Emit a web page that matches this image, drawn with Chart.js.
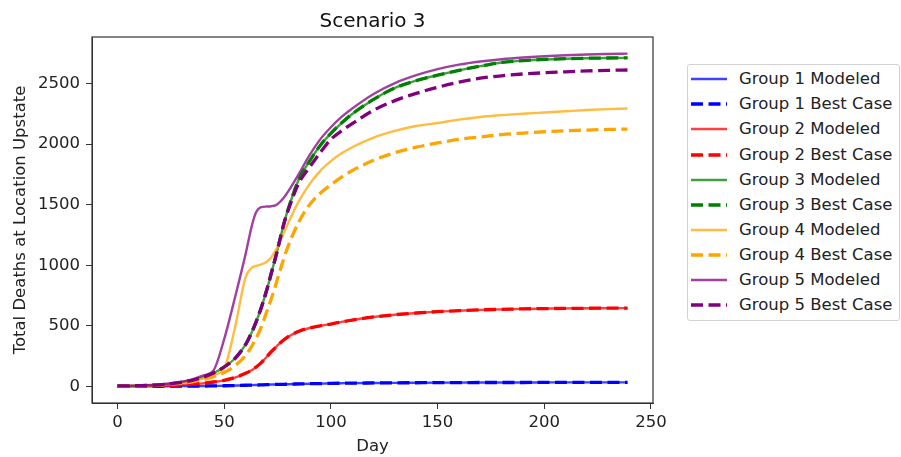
<!DOCTYPE html>
<html><head><meta charset="utf-8">
<script src="https://cdn.jsdelivr.net/npm/chart.js@4.4.0/dist/chart.umd.min.js"></script>
<style>
html,body{margin:0;padding:0;background:#fff;}
#wrap{position:relative;width:901px;height:457px;overflow:hidden;background:#fff;}
#c{position:absolute;left:0;top:0;}
#legend{position:absolute;left:687px;top:64px;width:211px;height:255px;border:1px solid #d2d2d2;border-radius:3px;background:#fff;font-family:'DejaVu Sans';font-size:16.5px;color:#222;}
.row{position:absolute;left:0;height:20px;width:208px;}
.row svg{position:absolute;left:3px;top:0;}
.row span{position:absolute;left:51px;top:0;line-height:20px;white-space:nowrap;}
</style></head><body>
<div id="wrap"><canvas id="c" width="901" height="457"></canvas><div id="legend"></div></div>
<script>
const chartTitle = 'Scenario 3';
const xLabel = 'Day';
const yLabel = 'Total Deaths at Location Upstate';
const xTicks = [0, 50, 100, 150, 200, 250];
const yTicks = [0, 500, 1000, 1500, 2000, 2500];

const days = [0,10,20,30,35, 40,45,50,55,60, 63,65,67,70,72, 74,75,78,80,85, 90,95,100,105,110, 120,130,140,150,160, 170,180,190,200,210, 220,230,239];

const group1Modeled  = [0,0,1,2,2, 3,4,5,7,9, 10,11,12,14,15, 16,16,17,18,20, 22,23,25,26,27, 28,29,30,31,31, 32,32,32,33,33, 33,33,33];
const group1BestCase = [0,0,1,2,2, 3,4,5,7,9, 10,11,12,14,15, 16,16,17,18,20, 22,23,25,26,27, 28,29,30,31,31, 32,32,32,33,33, 33,33,33];
const group2Modeled  = [2,3,6,12,17, 25,36,50,72,108, 135,160,190,245,285, 320,338,385,410,455, 482,500,515,533,548, 573,592,606,617,625, 632,636,640,642,644, 645,646,646];
const group2BestCase = [2,3,6,12,17, 25,36,50,72,108, 135,160,190,245,285, 320,338,385,410,455, 482,500,515,533,548, 573,592,606,617,625, 632,636,640,642,644, 645,646,646];
const group3Modeled  = [4,6,13,33,50, 75,110,160,230,345, 450,535,630,800,930, 1060,1130,1345,1465,1710, 1860,1990,2090,2175,2250, 2370,2465,2525,2570,2610, 2645,2675,2690,2700,2706, 2710,2712,2713];
const group3BestCase = [4,6,13,33,50, 75,110,160,230,345, 450,535,630,800,930, 1060,1130,1345,1465,1710, 1860,1990,2090,2175,2250, 2370,2465,2525,2570,2610, 2645,2675,2690,2700,2706, 2710,2712,2713];
const group4Modeled  = [4,5,12,30,45, 65,95,150,480,900, 980,995,1005,1030,1065, 1120,1150,1270,1350,1530, 1670,1780,1860,1925,1975, 2055,2110,2150,2175,2203, 2225,2240,2252,2262,2272, 2282,2290,2295];
const group4BestCase = [3,4,10,25,38, 55,80,115,170,255, 335,400,475,620,720, 830,890,1060,1160,1360, 1500,1595,1665,1728,1782, 1868,1930,1975,2010,2040, 2060,2080,2092,2103,2111, 2117,2122,2125];
const group5Modeled  = [4,6,15,38,58, 88,132,390,730,1090, 1330,1440,1478,1485,1488, 1495,1505,1560,1610,1755, 1910,2040,2140,2225,2295, 2415,2505,2570,2620,2657, 2683,2702,2716,2727,2735, 2741,2745,2748];
const group5BestCase = [4,6,13,33,50, 75,110,160,230,345, 450,535,630,800,930, 1060,1130,1345,1455,1680, 1810,1930,2040,2110,2170, 2280,2360,2420,2470,2512, 2545,2565,2580,2590,2598, 2605,2610,2613];

const seriesNames = ['Group 1 Modeled','Group 1 Best Case','Group 2 Modeled','Group 2 Best Case','Group 3 Modeled','Group 3 Best Case','Group 4 Modeled','Group 4 Best Case','Group 5 Modeled','Group 5 Best Case'];
const seriesValues = [group1Modeled, group1BestCase, group2Modeled, group2BestCase, group3Modeled, group3BestCase, group4Modeled, group4BestCase, group5Modeled, group5BestCase];
const groupColors = [[0,0,255],[255,0,0],[0,128,0],[255,165,0],[128,0,128]];

const DASH = [12, 5.5];
const FONT = 'DejaVu Sans';

const datasets = seriesNames.map((name, i) => {
  const c = groupColors[Math.floor(i / 2)];
  const dashed = i % 2 === 1;
  return {
    label: name,
    data: days.map((d, k) => ({x: d, y: seriesValues[i][k]})),
    borderColor: dashed ? `rgb(${c[0]},${c[1]},${c[2]})` : `rgba(${c[0]},${c[1]},${c[2]},0.75)`,
    borderWidth: dashed ? 3.3 : 2.4,
    borderDash: dashed ? DASH : [],
    pointRadius: 0,
    fill: false,
    cubicInterpolationMode: 'monotone',
    order: 20 - i
  };
});

const xMin = -0.05 * 239, xMax = 239 * 1.05;
const yMin = -0.05 * 2748, yMax = 2748 * 1.05;

const framePlugin = {
  id: 'frame',
  afterDraw(chart) {
    const {ctx, chartArea: a} = chart;
    ctx.save();
    ctx.strokeStyle = '#333';
    ctx.lineWidth = 1.2;
    ctx.strokeRect(a.left, a.top, a.right - a.left, a.bottom - a.top);
    ctx.restore();
  }
};

new Chart(document.getElementById('c'), {
  type: 'line',
  data: {datasets},
  plugins: [framePlugin],
  options: {
    responsive: false,
    animation: false,
    devicePixelRatio: 1,
    layout: {padding: {left: 0, right: 248, top: 0, bottom: 0}},
    plugins: {
      legend: {display: false},
      tooltip: {enabled: false},
      title: {
        display: true, text: chartTitle, fullSize: false, color: '#111',
        font: {family: FONT, size: 20, weight: 'normal'},
        padding: {top: 10, bottom: 3}
      }
    },
    scales: {
      x: {
        type: 'linear', min: xMin, max: xMax,
        afterBuildTicks: s => { s.ticks = xTicks.map(v => ({value: v})); },
        afterFit: s => { s.height = 54; },
        ticks: {color: '#222', font: {family: FONT, size: 16.5}, padding: 3.5, maxRotation: 0, callback: v => String(v)},
        grid: {display: true, drawOnChartArea: false, drawTicks: true, tickLength: 6, color: '#333', lineWidth: 1},
        border: {display: true, color: '#333'},
        title: {display: true, text: xLabel, color: '#222', font: {family: FONT, size: 16.5}, padding: {top: 1.5, bottom: 0}}
      },
      y: {
        type: 'linear', min: yMin, max: yMax,
        afterBuildTicks: s => { s.ticks = yTicks.map(v => ({value: v})); },
        afterFit: s => { s.width = 92; },
        ticks: {color: '#222', font: {family: FONT, size: 16.5}, padding: 6, callback: v => String(v)},
        grid: {display: true, drawOnChartArea: false, drawTicks: true, tickLength: 6, color: '#333', lineWidth: 1},
        border: {display: true, color: '#333'},
        title: {display: true, text: yLabel, color: '#222', font: {family: FONT, size: 16.5}, padding: {top: 11, bottom: 0}}
      }
    }
  }
});

// HTML legend
const legend = document.getElementById('legend');
seriesNames.forEach((name, i) => {
  const c = groupColors[Math.floor(i / 2)];
  const dashed = i % 2 === 1;
  const row = document.createElement('div');
  row.className = 'row';
  row.style.top = (4.3 + 25.08 * i) + 'px';
  const col = dashed ? `rgb(${c[0]},${c[1]},${c[2]})` : `rgba(${c[0]},${c[1]},${c[2]},0.75)`;
  row.innerHTML = `<svg width="37" height="20"><line x1="0" y1="10" x2="36" y2="10" stroke="${col}" stroke-width="${dashed ? 3.3 : 2.4}" ${dashed ? 'stroke-dasharray="12 5.5"' : ''}/></svg><span>${name}</span>`;
  legend.appendChild(row);
});
</script>
</body></html>
